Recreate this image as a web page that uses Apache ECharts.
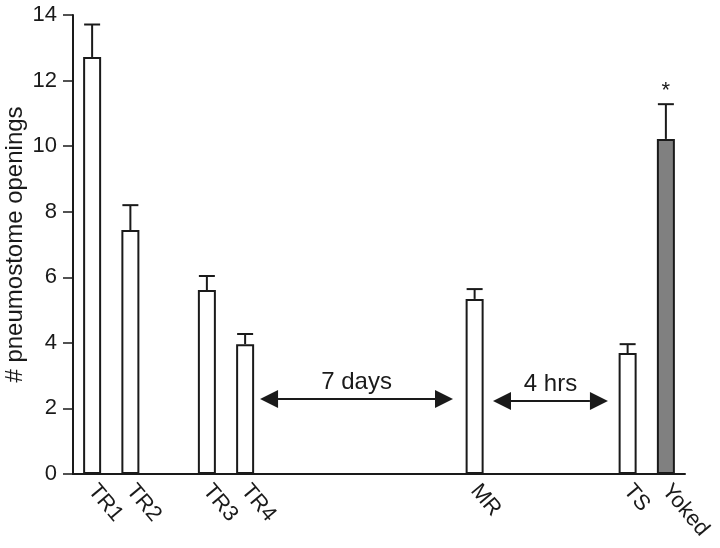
<!DOCTYPE html>
<html>
<head>
<meta charset="utf-8">
<script src="https://cdn.jsdelivr.net/npm/echarts@6/dist/echarts.min.js"></script>
<style>
  html, body { margin: 0; padding: 0; background: #fff; }
  #chart { width: 720px; height: 548px; }
</style>
</head>
<body>
<div id="chart"></div>
<script>
// groups, in order along the x axis
const groups = ['TR1', 'TR2', 'TR3', 'TR4', 'MR', 'TS', 'Yoked'];
// slot of each group on the x axis (gaps stand for elapsed time)
const slots = [1, 3, 7, 9, 21, 29, 31];
// mean number of pneumostome openings
const means = [12.72, 7.44, 5.61, 3.96, 5.34, 3.69, 10.22];
// error (upper bar only)
const errors = [0.99, 0.76, 0.43, 0.31, 0.30, 0.27, 1.06];
// significance marks
const marks = ['', '', '', '', '', '', '*'];
// time gap annotations: label, from slot, to slot, height
const gapLabels = ['7 days', '4 hrs'];
const gapFrom = [9.78, 21.96];
const gapTo = [19.87, 27.97];
const gapLevel = [2.29, 2.23];

const INK = '#1a1a1a';
const FONT = '"Liberation Sans", Arial, sans-serif';

const nameBySlot = {};
slots.forEach((s, i) => { nameBySlot[s] = groups[i]; });

function renderErrorBar(params, api) {
    const x = api.value(0);
    const m = api.value(1);
    const e = api.value(2);
    const base = api.coord([x, m]);
    const top = api.coord([x, m + e]);
    const half = 8;
    const children = [
        { type: 'line', shape: { x1: base[0], y1: base[1], x2: top[0], y2: top[1] }, style: { stroke: INK, lineWidth: 2 } },
        { type: 'line', shape: { x1: top[0] - half, y1: top[1], x2: top[0] + half, y2: top[1] }, style: { stroke: INK, lineWidth: 2 } }
    ];
    const mark = marks[params.dataIndex];
    if (mark) {
        children.push({
            type: 'text',
            style: { text: mark, x: top[0], y: top[1] - 2, align: 'center', verticalAlign: 'bottom', fontSize: 22, fontFamily: FONT, fill: INK }
        });
    }
    return { type: 'group', children };
}

function renderArrow(params, api) {
    const a = api.coord([api.value(0), api.value(2)]);
    const b = api.coord([api.value(1), api.value(2)]);
    const len = 18, hw = 9;
    return {
        type: 'group',
        children: [
            { type: 'line', shape: { x1: a[0] + len, y1: a[1], x2: b[0] - len, y2: b[1] }, style: { stroke: INK, lineWidth: 2 } },
            { type: 'polygon', shape: { points: [[a[0], a[1]], [a[0] + len, a[1] - hw], [a[0] + len, a[1] + hw]] }, style: { fill: INK } },
            { type: 'polygon', shape: { points: [[b[0], b[1]], [b[0] - len, b[1] - hw], [b[0] - len, b[1] + hw]] }, style: { fill: INK } },
            {
                type: 'text',
                style: { text: gapLabels[params.dataIndex], x: (a[0] + b[0]) / 2, y: a[1] - 5, align: 'center', verticalAlign: 'bottom', fontSize: 24, fontFamily: FONT, fill: INK }
            }
        ]
    };
}

const chart = echarts.init(document.getElementById('chart'));
chart.setOption({
    animation: false,
    backgroundColor: '#fff',
    grid: { left: 73, right: 35, top: 15, bottom: 74, containLabel: false, outerBoundsMode: 'none' },
    xAxis: {
        type: 'value',
        min: 0,
        max: 32,
        interval: 1,
        axisLine: { show: true, lineStyle: { color: INK, width: 2 } },
        axisTick: { show: false },
        splitLine: { show: false },
        axisLabel: {
            rotate: -50,
            margin: 13,
            fontSize: 22,
            fontFamily: FONT,
            color: INK,
            formatter: v => nameBySlot[v] || ''
        }
    },
    yAxis: {
        type: 'value',
        min: 0,
        max: 14,
        interval: 2,
        name: '# pneumostome openings',
        nameLocation: 'middle',
        nameGap: 46,
        nameMoveOverlap: false,
        nameTextStyle: { fontSize: 24, fontFamily: FONT, color: INK },
        axisLine: { show: true, lineStyle: { color: INK, width: 2 } },
        axisTick: { show: true, inside: false, length: 10, lineStyle: { color: INK, width: 1.5 } },
        splitLine: { show: false },
        axisLabel: { margin: 16, fontSize: 22, fontFamily: FONT, color: INK }
    },
    series: [
        {
            type: 'bar',
            barWidth: 18,
            data: slots.map((s, i) => ({
                value: [s, means[i]],
                itemStyle: groups[i] === 'Yoked' ? { color: '#808080' } : undefined
            })),
            itemStyle: { color: '#fff', borderColor: INK, borderWidth: 2 }
        },
        {
            type: 'custom',
            renderItem: renderErrorBar,
            data: slots.map((s, i) => [s, means[i], errors[i]]),
            z: 3
        },
        {
            type: 'custom',
            renderItem: renderArrow,
            data: gapLabels.map((_, i) => [gapFrom[i], gapTo[i], gapLevel[i]]),
            z: 3
        }
    ]
});
</script>
</body>
</html>
